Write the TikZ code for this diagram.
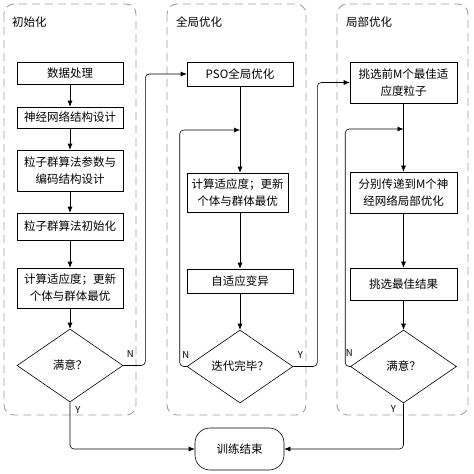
\documentclass[tikz,border=0pt]{standalone}
\usepackage{fontspec}
\setmainfont{Noto Sans CJK SC}
\usetikzlibrary{shapes.geometric,arrows.meta}

\begin{document}
\begin{tikzpicture}[x=1pt,y=-1pt,
	caixa/.style={draw, line width=0.6pt, minimum width=106pt, align=center, inner sep=2pt, font=\fontsize{11.5}{17}\selectfont},
	decisao/.style={draw, diamond, line width=0.6pt, minimum width=106pt, minimum height=73pt, inner sep=0pt, font=\fontsize{11.5}{14}\selectfont},
	fim/.style={draw, line width=0.6pt, rounded corners=15pt, minimum width=89pt, minimum height=42pt, font=\fontsize{11.5}{14}\selectfont},
	grupo/.style={draw=gray!75, dash pattern=on 8pt off 5pt, line width=0.9pt, rounded corners=10pt},
	titulo/.style={anchor=west, inner sep=0pt, font=\fontsize{11.5}{14}\selectfont},
	rotulo/.style={anchor=center, inner sep=0pt, font=\fontsize{9.5}{11}\selectfont},
	seta/.style={-{Latex[length=6pt,width=5pt]}, line width=0.6pt}]
	\useasboundingbox (0,0) rectangle (474,474); %Tamanho da figura
		%Grupos tracejados
	\draw[grupo] (4,4) rectangle (136,415); %Inicializacao
	\draw[grupo] (167,4) rectangle (306,415); %Otimizacao global
	\draw[grupo] (337,4) rectangle (468,415); %Otimizacao local
	\node[titulo] (tit1) at (12,22) {初始化};
	\node[titulo] (tit2) at (176,22) {全局优化};
	\node[titulo] (tit3) at (346,22) {局部优化};
		%Coluna da esquerda
	\node[caixa, minimum height=22pt] (dados) at (70,73) {数据处理};
	\node[caixa, minimum height=21pt] (rede) at (70,117.5) {神经网络结构设计};
	\node[caixa, minimum height=41pt] (param) at (70,170.5) {粒子群算法参数与\\编码结构设计};
	\node[caixa, minimum height=27pt] (inic) at (70,226.5) {粒子群算法初始化};
	\node[caixa, minimum height=40pt] (calc1) at (70,288) {计算适应度；更新\\个体与群体最优};
	\node[decisao] (sat1) at (70,365.5) {满意？};
		%Coluna do meio
	\node[caixa, minimum height=24pt] (pso) at (240,74) {PSO全局优化};
	\node[caixa, minimum width=101pt, minimum height=39pt] (calc2) at (237.5,192.5) {计算适应度；更新\\个体与群体最优};
	\node[caixa, minimum height=24pt] (muta) at (240,281) {自适应变异};
	\node[decisao] (iter) at (240,366.5) {迭代完毕？};
	\coordinate (laco2) at (240,130); %Retorno do laco do meio
		%Coluna da direita
	\node[caixa, minimum width=107pt, minimum height=41pt] (sel) at (403.5,82.5) {挑选前M个最佳适\\应度粒子};
	\node[caixa, minimum width=107pt, minimum height=41pt] (trans) at (403.5,192.5) {分别传递到M个神\\经网络局部优化};
	\node[caixa, minimum width=107pt, minimum height=32pt] (melhor) at (403.5,284) {挑选最佳结果};
	\node[decisao] (sat2) at (403.5,366.5) {满意？};
	\coordinate (laco3) at (403.5,129); %Retorno do laco da direita
		%Fim
	\node[fim] (fim) at (239.5,449) {训练结束};
		%Setas da esquerda
	\draw[seta] (dados) -- (rede);
	\draw[seta] (rede) -- (param);
	\draw[seta] (param) -- (inic);
	\draw[seta] (inic) -- (calc1);
	\draw[seta] (calc1) -- (sat1);
	\draw[seta, rounded corners=4pt] (sat1.east) node[rotulo, xshift=7pt, yshift=11pt] (n1) {N} -- ++(22,0) |- (pso.west); %N vai para a otimizacao global
	\draw[seta, rounded corners=4pt] (sat1.south) node[rotulo, xshift=8pt, yshift=-8pt] (y1) {Y} |- (fim.west); %Y termina
		%Setas do meio
	\draw[seta] (pso.south) -- (pso.south |- calc2.north);
	\draw[seta] (muta.north |- calc2.south) -- (muta.north);
	\draw[seta] (muta) -- (iter);
	\draw[seta, rounded corners=4pt] (iter.west) node[rotulo, xshift=-1pt, yshift=11pt] (n2) {N} -- ++(-7,0) |- (laco2); %Laco
	\draw[seta, rounded corners=4pt] (iter.east) node[rotulo, xshift=7pt, yshift=11pt] (y2) {Y} -- ++(24,0) |- (sel.west); %Vai para a otimizacao local
		%Setas da direita
	\draw[seta] (sel) -- (trans);
	\draw[seta] (trans) -- (melhor);
	\draw[seta] (melhor) -- (sat2);
	\draw[seta, rounded corners=4pt] (sat2.west) node[rotulo, xshift=-1pt, yshift=13pt] (n3) {N} -- ++(-5,0) |- (laco3); %Laco
	\draw[seta, rounded corners=4pt] (sat2.south) node[rotulo, xshift=-10pt, yshift=-6pt] (y3) {Y} |- (fim.east); %Y termina
\end{tikzpicture}
\end{document}
